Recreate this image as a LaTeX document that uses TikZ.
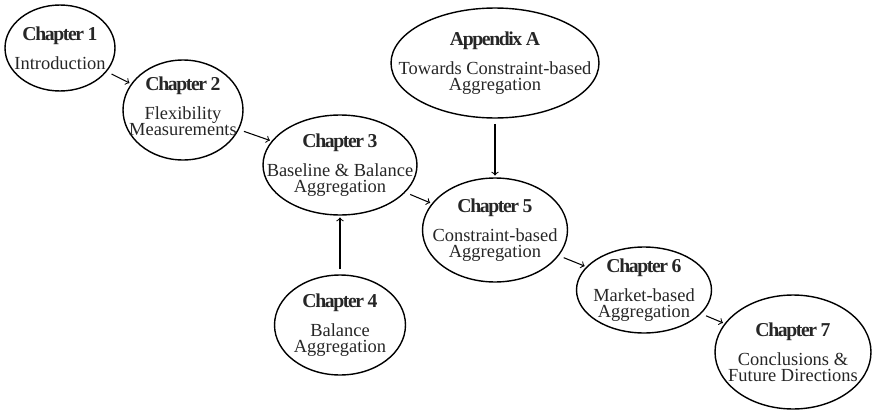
\documentclass[tikz,border=0pt]{standalone}
\usepackage{fontspec}
\setmainfont{Liberation Serif}
\usetikzlibrary{shapes.geometric}
\newcommand{\chead}[1]{{\fontsize{11.2}{9.2}\selectfont\bfseries\addfontfeatures{LetterSpace=-7}#1}}
\begin{document}
\begin{tikzpicture}[x=0.02cm,y=-0.02cm,
    chap/.style={ellipse,draw,line width=0.8pt,inner sep=0pt},
    txt/.style={align=center,text=black!85,font=\fontsize{10.5}{9.2}\selectfont},
    link/.style={->,line width=0.6pt,shorten <=3pt,shorten >=1pt}]
        \useasboundingbox (0,0) rectangle (872,409);
        %% chapter ellipses
        \node[chap,minimum width=2.2cm,minimum height=1.72cm] (c1) at (60,48) {};
        \node[chap,minimum width=2.4cm,minimum height=2.0cm] (c2) at (183,110) {};
        \node[chap,minimum width=3.08cm,minimum height=2.0cm] (c3) at (340,165) {};
        \node[chap,minimum width=2.62cm,minimum height=2.0cm] (c4) at (340,325) {};
        \node[chap,minimum width=4.16cm,minimum height=2.2cm] (apA) at (495,63) {};
        \node[chap,minimum width=2.9cm,minimum height=2.08cm] (c5) at (495,230) {};
        \node[chap,minimum width=2.7cm,minimum height=1.72cm] (c6) at (644,290) {};
        \node[chap,minimum width=3.12cm,minimum height=2.28cm] (c7) at (793,352) {};
        %% texts
        \node[txt] (t1) at (c1) {\chead{Chapter 1}\\[6pt]Introduction};
        \node[txt] (t2) at ([yshift=2pt]c2) {\chead{Chapter 2}\\[6pt]Flexibility\\Measurements};
        \node[txt] (t3) at (c3) {\chead{Chapter 3}\\[6pt]Baseline \& Balance\\Aggregation};
        \node[txt] (t4) at (c4) {\chead{Chapter 4}\\[6pt]Balance\\Aggregation};
        \node[txt] (tA) at (apA) {\chead{Appendix A}\\[6pt]Towards Constraint-based\\Aggregation};
        \node[txt] (t5) at (c5) {\chead{Chapter 5}\\[6pt]Constraint-based\\Aggregation};
        \node[txt] (t6) at (c6) {\chead{Chapter 6}\\[6pt]Market-based\\Aggregation};
        \node[txt] (t7) at (c7) {\chead{Chapter 7}\\[6pt]Conclusions \&\\Future Directions};
        %% reading order
        \draw[link] (c1) -- (c2);
        \draw[link] (c2) -- (c3);
        \draw[link] (c3) -- (c5);
        \draw[link] (c4) -- (c3);
        \draw[link] (apA) -- (c5);
        \draw[link] (c5) -- (c6);
        \draw[link] (c6) -- (c7);
\end{tikzpicture}
\end{document}
